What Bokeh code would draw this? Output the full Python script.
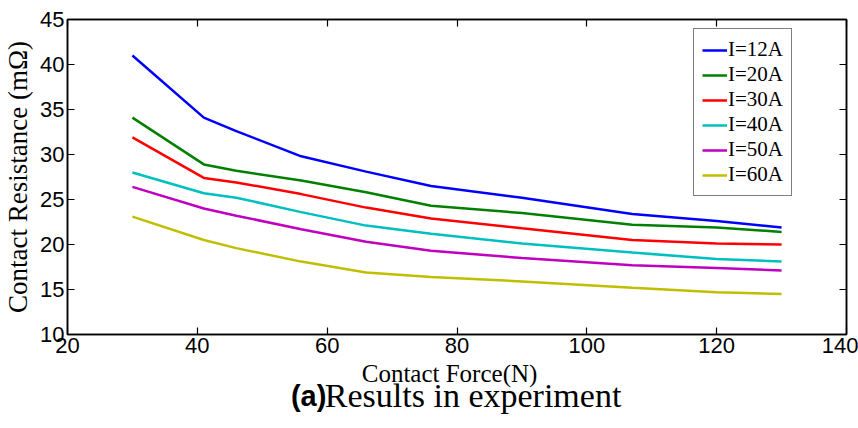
from bokeh.plotting import figure
from bokeh.models import LinearAxis, Legend, LegendItem, FixedTicker
from bokeh.layouts import column
from bokeh.core.properties import value
from bokeh.embed import file_html
from bokeh.resources import INLINE

force = [30, 41, 46, 56, 66, 76, 90, 107, 120, 130]
r_12A = [41.0, 34.1, 32.6, 29.8, 28.1, 26.5, 25.2, 23.4, 22.6, 21.9]
r_20A = [34.1, 28.9, 28.2, 27.1, 25.8, 24.3, 23.5, 22.2, 21.9, 21.4]
r_30A = [31.9, 27.4, 26.9, 25.6, 24.1, 22.9, 21.8, 20.5, 20.1, 20.0]
r_40A = [28.0, 25.7, 25.2, 23.6, 22.1, 21.2, 20.1, 19.1, 18.4, 18.1]
r_50A = [26.4, 24.0, 23.2, 21.7, 20.3, 19.3, 18.5, 17.7, 17.4, 17.1]
r_60A = [23.1, 20.5, 19.6, 18.1, 16.9, 16.4, 15.9, 15.2, 14.7, 14.5]
series = [r_12A, r_20A, r_30A, r_40A, r_50A, r_60A]
labels = ["I=12A", "I=20A", "I=30A", "I=40A", "I=50A", "I=60A"]
colors = ["#0000FF", "#008000", "#FF0000", "#00BFBF", "#BF00BF", "#BFBF00"]
x_ticks = [20, 40, 60, 80, 100, 120, 140]
y_ticks = [10, 15, 20, 25, 30, 35, 40, 45]
x_title = "Contact Force(N)"
y_title = "Contact Resistance (mΩ)"
caption_tag = "(a)"
caption_text = "Results in experiment"

SANS = "Liberation Sans"
SERIF = "Liberation Serif"
BORDER_L, BORDER_R = 65, 12

p = figure(width=858, height=364, x_range=(20, 140), y_range=(10, 45),
           output_backend="svg", toolbar_location=None,
           min_border_left=BORDER_L, min_border_right=BORDER_R,
           min_border_top=19, min_border_bottom=30)
p.xgrid.visible = False
p.ygrid.visible = False
p.outline_line_color = "black"
p.outline_line_width = 1.5
p.background_fill_color = "white"
p.border_fill_color = "white"


def style_axis(ax):
    ax.axis_line_color = "black"
    ax.axis_line_width = 1.5
    ax.major_tick_in = 7
    ax.major_tick_out = 0
    ax.minor_tick_in = 0
    ax.minor_tick_out = 0
    ax.major_tick_line_color = "black"
    ax.major_tick_line_width = 1.2
    ax.major_label_text_color = "black"
    ax.major_label_text_font = SANS
    ax.major_label_text_font_size = "22px"
    ax.axis_label_text_color = "black"
    ax.axis_label_text_font = SERIF
    ax.axis_label_text_font_style = "normal"


p.xaxis.ticker = FixedTicker(ticks=x_ticks)
p.yaxis.ticker = FixedTicker(ticks=y_ticks)
style_axis(p.xaxis[0])
style_axis(p.yaxis[0])
p.yaxis.axis_label = y_title
p.yaxis.axis_label_text_font_size = "27px"
p.xaxis.major_label_standoff = 3
p.yaxis.major_label_standoff = 3
p.yaxis.axis_label_standoff = 4

ax_top = LinearAxis(ticker=FixedTicker(ticks=x_ticks),
                    major_label_overrides={t: "" for t in x_ticks})
ax_right = LinearAxis(ticker=FixedTicker(ticks=y_ticks),
                      major_label_overrides={t: "" for t in y_ticks})
for ax in (ax_top, ax_right):
    style_axis(ax)
    ax.major_label_standoff = 0
p.add_layout(ax_top, "above")
p.add_layout(ax_right, "right")

items = []
for ys, lab, col in zip(series, labels, colors):
    r = p.line(force, ys, line_color=col, line_width=2.5)
    items.append(LegendItem(label=lab, renderers=[r]))

legend = Legend(items=items, location=(626, 138))
legend.border_line_color = "black"
legend.border_line_width = 1.2
legend.background_fill_alpha = 1
legend.label_text_font = SERIF
legend.label_text_font_size = "21px"
legend.label_text_color = "black"
legend.glyph_width = 25
legend.glyph_height = 20
legend.label_height = 20
legend.label_standoff = 1
legend.spacing = 0
legend.padding = 8
legend.margin = 0
p.add_layout(legend, "center")

# strip below the chart with the x-axis title and the caption (x data units == page pixels)
cap = figure(width=858, height=64, title=None,
             x_range=(BORDER_L, 858 - BORDER_R), y_range=(0, 64),
             x_axis_type=None, y_axis_type=None,
             output_backend="svg", toolbar_location=None,
             min_border_left=BORDER_L, min_border_right=BORDER_R,
             min_border_top=0, min_border_bottom=0)
cap.grid.visible = False
cap.outline_line_color = None
cap.background_fill_color = "white"
cap.border_fill_color = "white"
cap.text(x=[448], y=[55], text=[x_title], text_font=value(SERIF),
         text_font_size="25px", text_color="black",
         text_baseline="alphabetic", text_align="center")
cap.text(x=[289], y=[33], text=[caption_tag], text_font=value(SANS),
         text_font_style="bold", text_font_size="29px", text_color="black",
         text_baseline="alphabetic", text_align="left")
cap.text(x=[323], y=[33], text=[caption_text], text_font=value(SERIF),
         text_font_size="34px", text_color="black",
         text_baseline="alphabetic", text_align="left")

layout = column(p, cap, spacing=0)
open("out.html", "w").write(file_html(layout, INLINE))
